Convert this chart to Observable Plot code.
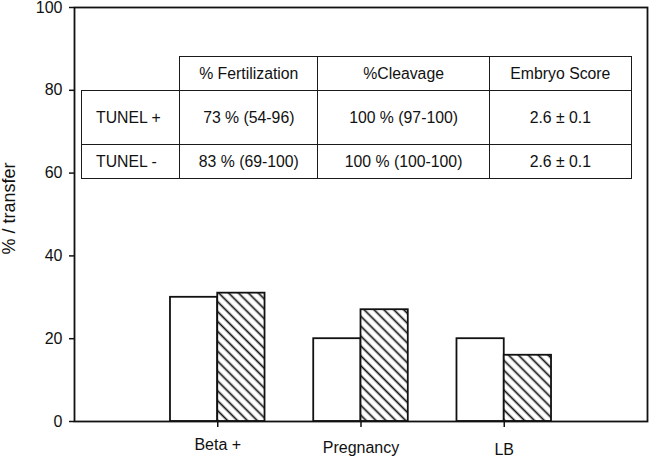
<!DOCTYPE html>
<html>
<head>
<meta charset="utf-8">
<script src="https://cdn.jsdelivr.net/npm/d3@7"></script>
<script src="https://cdn.jsdelivr.net/npm/@observablehq/plot@0.6"></script>
<style>
  html, body { margin: 0; padding: 0; background: white; }
  #wrap { position: relative; width: 649px; height: 458px; font-family: "Liberation Sans", Arial, sans-serif; color: #111; }
  #tbl { position: absolute; left: 81px; top: 56px; border-collapse: collapse; table-layout: fixed; width: 551px; font-size: 15.8px; }
  #tbl td { border: 1.7px solid #1a1a1a; text-align: center; vertical-align: middle; padding: 0; white-space: nowrap; }
  #tbl td.lab { text-align: left; padding-left: 14px; }
  #tbl td.blank { border-top: none; border-left: none; }
</style>
</head>
<body>
<div id="wrap"></div>
<script>
const categories = ["Beta +", "Pregnancy", "LB"];
const tunelPositive = [30, 20, 20];
const tunelNegative = [31, 27, 16];
const yTicks = [0, 20, 40, 60, 80, 100];
const yLabel = "% / transfer";
const tableHeader = ["", "% Fertilization", "%Cleavage", "Embryo Score"];
const tableRowLabels = ["TUNEL +", "TUNEL -"];
const tableFertilization = ["73 % (54-96)", "83 % (69-100)"];
const tableCleavage = ["100 % (97-100)", "100 % (100-100)"];
const tableEmbryoScore = ["2.6 ± 0.1", "2.6 ± 0.1"];

const barW = 0.33;
const pos = categories.map((c, i) => ({cat: c, i, value: tunelPositive[i]}));
const neg = categories.map((c, i) => ({cat: c, i, value: tunelNegative[i]}));

const chart = Plot.plot({
  width: 649,
  height: 458,
  marginLeft: 74,
  marginRight: 2,
  marginTop: 7,
  marginBottom: 37,
  x: {domain: [0, 4], axis: null},
  y: {domain: [0, 100], axis: null},
  style: {fontFamily: "'Liberation Sans', Arial, sans-serif", fontSize: "16px", color: "#111", background: "white"},
  marks: [
    Plot.rectY(pos, {x1: d => d.i + 1 - barW, x2: d => d.i + 1, y: "value", fill: "white", stroke: "#111", strokeWidth: 1.8}),
    Plot.rectY(neg, {x1: d => d.i + 1, x2: d => d.i + 1 + barW, y: "value", fill: "url(#hatch)", stroke: "#111", strokeWidth: 1.8}),
    Plot.frame({stroke: "#111", strokeWidth: 1.8}),
    Plot.axisY(yTicks, {tickSize: 5, tickPadding: 7, strokeWidth: 1.5, fontSize: 16, label: null}),
    ...categories.map((c, i) => Plot.axisX([i + 1], {tickSize: 6, tickPadding: 11 + [0, 3, 5][i], strokeWidth: 1.5, fontSize: 16, tickFormat: () => c, label: null})),
    Plot.text([yLabel], {text: d => d, frameAnchor: "left", textAnchor: "middle", rotate: -90, dx: -65, dy: -6, fontSize: 18, fill: "#111"})
  ]
});

// hatch pattern
const ns = "http://www.w3.org/2000/svg";
const defs = document.createElementNS(ns, "defs");
const pat = document.createElementNS(ns, "pattern");
pat.setAttribute("id", "hatch");
pat.setAttribute("patternUnits", "userSpaceOnUse");
pat.setAttribute("width", "7");
pat.setAttribute("height", "7");
pat.setAttribute("patternTransform", "rotate(45)");
const bg = document.createElementNS(ns, "rect");
bg.setAttribute("width", "7"); bg.setAttribute("height", "7"); bg.setAttribute("fill", "white");
const ln = document.createElementNS(ns, "line");
ln.setAttribute("x1", "0"); ln.setAttribute("y1", "3.5"); ln.setAttribute("x2", "7"); ln.setAttribute("y2", "3.5");
ln.setAttribute("stroke", "#111"); ln.setAttribute("stroke-width", "1.7");
pat.appendChild(bg); pat.appendChild(ln); defs.appendChild(pat);
chart.insertBefore(defs, chart.firstChild);

const wrap = document.getElementById("wrap");
wrap.appendChild(chart);

// inset table
const colWidths = [98, 138, 171, 142];
const rowHeights = [34, 54, 34];
const table = document.createElement("table");
table.id = "tbl";
const cg = document.createElement("colgroup");
colWidths.forEach(w => { const col = document.createElement("col"); col.style.width = w + "px"; cg.appendChild(col); });
table.appendChild(cg);
const hr = document.createElement("tr");
hr.style.height = rowHeights[0] + "px";
tableHeader.forEach((h, j) => { const td = document.createElement("td"); td.textContent = h; if (j === 0) td.className = "blank"; hr.appendChild(td); });
table.appendChild(hr);
tableRowLabels.forEach((lab, r) => {
  const tr = document.createElement("tr");
  tr.style.height = rowHeights[r + 1] + "px";
  [lab, tableFertilization[r], tableCleavage[r], tableEmbryoScore[r]].forEach((v, j) => {
    const td = document.createElement("td"); td.textContent = v; if (j === 0) td.className = "lab"; tr.appendChild(td);
  });
  table.appendChild(tr);
});
wrap.appendChild(table);
</script>
</body>
</html>
